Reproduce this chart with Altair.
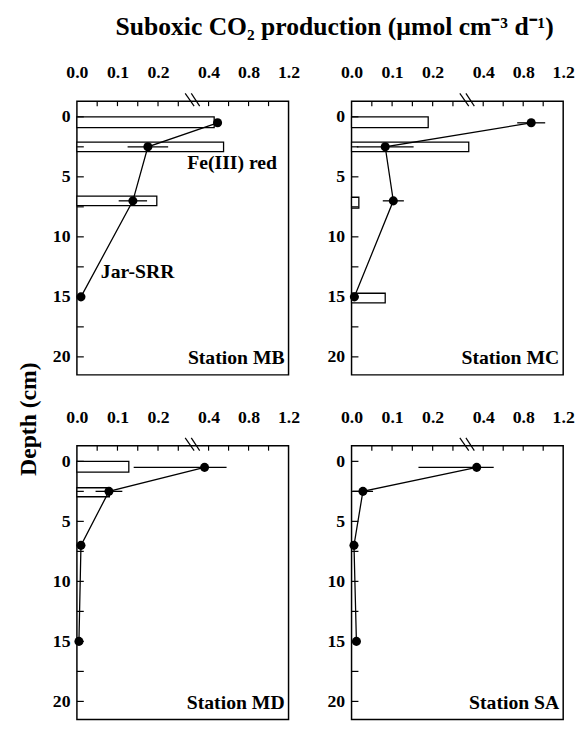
import altair as alt
import pandas as pd

FONT = "Liberation Serif"

# ---- data ----
depth_pts = [0.5, 2.5, 7.0, 15.0]

mb_srr = [0.49, 0.175, 0.138, 0.010]
mb_err = [0.0, 0.050, 0.035, 0.0]
mc_srr = [0.88, 0.083, 0.103, 0.007]
mc_err = [0.14, 0.070, 0.026, 0.0]
md_srr = [0.36, 0.079, 0.010, 0.005]
md_err = [0.22, 0.033, 0.0, 0.0]
sa_srr = [0.335, 0.028, 0.006, 0.012]
sa_err = [0.17, 0.025, 0.0, 0.0]

# Fe(III) reduction bars: top depth, bottom depth, rate
mb_fe_top = [0.0, 2.1, 6.6]
mb_fe_bot = [0.9, 2.9, 7.4]
mb_fe_val = [0.456, 0.55, 0.197]
mc_fe_top = [0.0, 2.1, 6.7, 14.7]
mc_fe_bot = [0.9, 2.9, 7.6, 15.5]
mc_fe_val = [0.189, 0.289, 0.018, 0.083]
md_fe_top = [0.0, 2.2]
md_fe_bot = [0.9, 2.95]
md_fe_val = [0.128, 0.080]

x_label_vals = [0.0, 0.1, 0.2, 0.4, 0.8, 1.2]
x_minor_ticks = [0.05, 0.1, 0.15, 0.2, 0.25, 0.4, 0.6, 0.8, 1.0]
y_label_vals = [0, 5, 10, 15, 20]
y_ticks = [0, 2.5, 5, 7.5, 10, 12.5, 15, 17.5, 20]
break_x1 = [0.267, 0.282]
break_x2 = [0.289, 0.311]

W, H = 215, 278
X_DOMAIN = [0, 0.3, 1.2]
X_RANGE = [0, 123.6, W]
Y_DOMAIN = [-1.3, 21.5]


def xs():
    return alt.Scale(domain=X_DOMAIN, range=X_RANGE, nice=False, zero=False)


def ys():
    return alt.Scale(domain=Y_DOMAIN, reverse=True, nice=False, zero=False)


def xax():
    return alt.Axis(orient="top", values=x_label_vals, format=".1f", ticks=False,
                    domain=False, grid=False, labelFont=FONT, labelFontWeight="bold",
                    labelFontSize=18, labelPadding=20, labelColor="black",
                    labelFlush=False, labelOverlap=False)


def yax():
    return alt.Axis(values=y_label_vals, ticks=False, domain=False, grid=False,
                    labelFont=FONT, labelFontWeight="bold", labelFontSize=18,
                    labelPadding=7, labelColor="black", labelOverlap=False)


def X(field):
    return alt.X(field, type="quantitative", scale=xs(), axis=xax(), title=None)


def Y(field):
    return alt.Y(field, type="quantitative", scale=ys(), axis=yax(), title=None)


def panel(name, srr, err, fe_top=None, fe_bot=None, fe_val=None, notes=False):
    pts = pd.DataFrame({
        "depth": depth_pts,
        "rate": srr,
        "lo": [r - e for r, e in zip(srr, err)],
        "hi": [r + e for r, e in zip(srr, err)],
        "err": err,
    })
    layers = []
    if fe_val:
        bars = pd.DataFrame({"top": fe_top, "bot": fe_bot, "val": fe_val,
                             "zero": [0.0] * len(fe_val)})
        layers.append(
            alt.Chart(bars).mark_rect(fill="white", stroke="black", strokeWidth=1.3)
            .encode(x=X("zero"), x2="val", y=Y("top"), y2="bot"))
    errs = pts[pts["err"] > 0]
    layers.append(
        alt.Chart(errs).mark_rule(color="black", strokeWidth=1.3)
        .encode(x=X("lo"), x2="hi", y=Y("depth")))
    layers.append(
        alt.Chart(pts).mark_line(color="black", strokeWidth=1.3)
        .encode(x=X("rate"), y=Y("depth"), order="depth:Q"))
    layers.append(
        alt.Chart(pts).mark_circle(color="black", opacity=1, size=85)
        .encode(x=X("rate"), y=Y("depth")))
    layers.append(
        alt.Chart(pd.DataFrame({"t": y_ticks})).mark_rule(color="black", strokeWidth=1.2)
        .encode(y=Y("t"), x=alt.value(0), x2=alt.value(7)))
    layers.append(
        alt.Chart(pd.DataFrame({"t": x_minor_ticks})).mark_rule(color="black", strokeWidth=1.2)
        .encode(x=X("t"), y=alt.value(0), y2=alt.value(5)))
    layers.append(
        alt.Chart(pd.DataFrame({"a": break_x1, "b": break_x2})).mark_rule(color="black", strokeWidth=1.2)
        .encode(x=X("a"), x2="b", y=alt.value(-8), y2=alt.value(5)))
    layers.append(
        alt.Chart(pd.DataFrame({"t": ["Station " + name]}))
        .mark_text(align="right", baseline="alphabetic", font=FONT, fontWeight="bold",
                   fontSize=20, color="black")
        .encode(x=alt.value(W - 4), y=alt.value(H - 11), text="t:N"))
    if notes:
        nd = pd.DataFrame({"t": ["Fe(III) red", "Jar-SRR"], "x": [0.272, 0.059],
                           "d": [3.85, 12.9]})
        layers.append(
            alt.Chart(nd).mark_text(align="left", baseline="middle", font=FONT,
                                    fontWeight="bold", fontSize=20, color="black")
            .encode(x=X("x"), y=Y("d"), text="t:N"))
    return alt.layer(*layers).properties(width=W, height=H)


mb = panel("MB", mb_srr, mb_err, mb_fe_top, mb_fe_bot, mb_fe_val, notes=True)
mc = panel("MC", mc_srr, mc_err, mc_fe_top, mc_fe_bot, mc_fe_val)
md = panel("MD", md_srr, md_err, md_fe_top, md_fe_bot, md_fe_val)
sa = panel("SA", sa_srr, sa_err)

row1 = alt.hconcat(mb, mc, spacing=26)
row2 = alt.hconcat(md, sa, spacing=26)
grid = alt.vconcat(row1, row2, spacing=32).properties(
    title=alt.TitleParams("Depth (cm)", orient="left", anchor="middle", font=FONT,
                          fontWeight="bold", fontSize=24, color="black", offset=11,
                          dx=-28))

chart = alt.vconcat(grid).properties(
    padding={"left": 9, "top": 0, "right": 0, "bottom": 0},
    title=alt.TitleParams("Suboxic CO\u2082 production (\u00b5mol cm\u207b\u00b3 d\u207b\u00b9)",
                          font=FONT, fontWeight="bold", fontSize=26, color="black",
                          anchor="start", offset=24, dx=100)
).configure_view(stroke="black", strokeWidth=1.5)

chart.save("out.html", embed_options={"renderer": "svg", "actions": False})
